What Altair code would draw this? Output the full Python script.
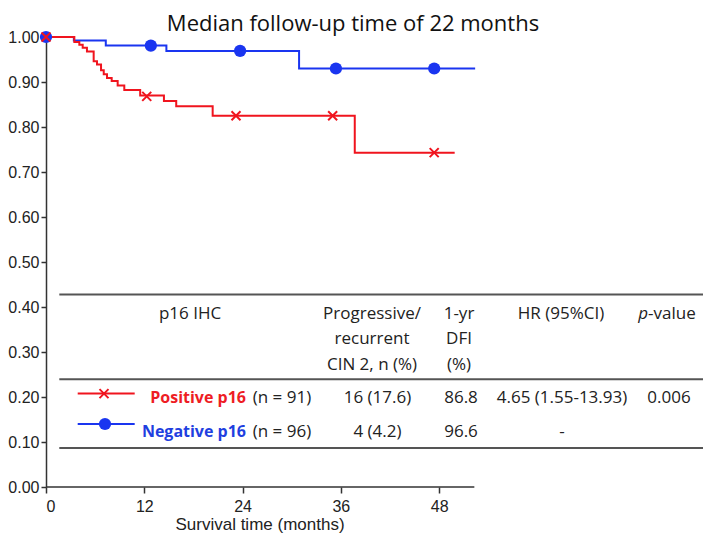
import altair as alt
import pandas as pd

# ---------------- data ----------------
pos_t = [0, 3.46, 4.07, 4.48, 5.0, 5.82, 6.23, 6.72, 7.05, 7.45, 8.02, 8.75, 9.56, 11.5, 14.4, 15.9, 20.35, 37.7, 49.9]
pos_s = [1.0, 0.989, 0.983, 0.976, 0.968, 0.946, 0.939, 0.926, 0.917, 0.909, 0.902, 0.892, 0.882, 0.870, 0.858, 0.846, 0.825, 0.743, 0.743]
neg_t = [0, 3.4, 7.3, 14.7, 30.9, 52.4]
neg_s = [1.0, 0.992, 0.981, 0.969, 0.930, 0.930]
pos_mark_t = [0, 12.3, 23.2, 35.0, 47.4]
pos_mark_s = [1.0, 0.868, 0.825, 0.825, 0.743]
neg_mark_t = [0, 12.8, 23.7, 35.4, 47.4]
neg_mark_s = [1.0, 0.981, 0.969, 0.930, 0.930]
x_ticks = [0, 12, 24, 36, 48]
y_ticks = [0.0, 0.1, 0.2, 0.3, 0.4, 0.5, 0.6, 0.7, 0.8, 0.9, 1.0]
axis_end = 52.3

title_text = "Median follow-up time of 22 months"
x_title = "Survival time (months)"
header_p16 = ["p16 IHC"]
header_prog = ["Progressive/", "recurrent", "CIN 2, n (%)"]
header_dfi = ["1-yr", "DFI", "(%)"]
header_hr = ["HR (95%CI)"]
group_labels = ["Positive p16", "Negative p16"]
group_n = ["(n = 91)", "(n = 96)"]
col_prog = ["16 (17.6)", "4 (4.2)"]
col_dfi = ["86.8", "96.6"]
col_hr = ["4.65 (1.55-13.93)", "-"]
col_p = ["0.006", ""]

# ---------------- style / layout ----------------
RED = "#f0141e"
BLUE = "#1a35f0"
RED_TXT = "#ee1c24"
BLUE_TXT = "#1f3fe0"
INK = "#222222"
AX = "#333333"
TFONT = "Open Sans"
AFONT = "Liberation Sans"
W, H = 657, 450
XMAX = W / 8.19

xs = alt.Scale(domain=[0, XMAX], nice=False, zero=False)
ys = alt.Scale(domain=[0, 1], nice=False)
x_axis = alt.Axis(values=x_ticks, title=None, domain=False, grid=False, tickSize=6,
                  labelPadding=5, labelFontSize=16, labelFont=AFONT, labelColor=INK,
                  tickColor=AX, tickWidth=1.5)
y_axis = alt.Axis(values=y_ticks, format=".2f", title=None, grid=False, tickSize=5,
                  labelPadding=2, labelFontSize=16, labelFont=AFONT, labelColor=INK,
                  tickColor=AX, tickWidth=1.5, domainColor=AX, domainWidth=1.5)

pos_df = pd.DataFrame({"t": pos_t, "s": pos_s})
neg_df = pd.DataFrame({"t": neg_t, "s": neg_s})
posm_df = pd.DataFrame({"t": pos_mark_t, "s": pos_mark_s})
negm_df = pd.DataFrame({"t": neg_mark_t, "s": neg_mark_s})
axis_df = pd.DataFrame({"t": [0], "t2": [axis_end], "s": [0]})
one = pd.DataFrame({"k": [0]})

XSHAPE = "M-1,-1L1,1M-1,1L1,-1"

neg_line = alt.Chart(neg_df).mark_line(interpolate="step-after", color=BLUE, strokeWidth=2).encode(
    x=alt.X("t:Q", scale=xs, axis=x_axis), y=alt.Y("s:Q", scale=ys, axis=y_axis))
pos_line = alt.Chart(pos_df).mark_line(interpolate="step-after", color=RED, strokeWidth=2).encode(
    x=alt.X("t:Q", scale=xs), y=alt.Y("s:Q", scale=ys))
neg_pts = alt.Chart(negm_df).mark_point(shape="circle", filled=True, size=150, color=BLUE, opacity=1).encode(
    x=alt.X("t:Q", scale=xs), y=alt.Y("s:Q", scale=ys))
pos_pts = alt.Chart(posm_df).mark_point(shape=XSHAPE, filled=False, size=81, color=RED, strokeWidth=2, opacity=1).encode(
    x=alt.X("t:Q", scale=xs), y=alt.Y("s:Q", scale=ys))
x_line = alt.Chart(axis_df).mark_rule(color=AX, strokeWidth=1.5).encode(
    x=alt.X("t:Q", scale=xs), x2="t2:Q", y=alt.Y("s:Q", scale=ys))


def txt(s, x, y, align="center", color=INK, size=17, weight="normal", style="normal", font=TFONT):
    return alt.Chart(one).mark_text(text=s, align=align, baseline="alphabetic", fontSize=size,
                                    font=font, fontWeight=weight, fontStyle=style, color=color).encode(
        x=alt.value(x), y=alt.value(y))


def hline(y, x1=13.3, x2=W, color="#555555", width=2):
    return alt.Chart(one).mark_rule(color=color, strokeWidth=width).encode(
        x=alt.value(x1), x2=alt.value(x2), y=alt.value(y))


layers = [neg_line, pos_line, neg_pts, pos_pts, x_line]

# title and axis title
layers.append(txt(title_text, 307, -6, size=22, color="#111111"))
layers.append(txt(x_title, 214, 493, size=17, font=AFONT))

# table rules
for yy in [257.6, 342.3, 411.0]:
    layers.append(hline(yy))

# headers
hdr_y = [281.6, 306.8, 332.6]
layers.append(txt(header_p16[0], 144, hdr_y[0]))
for i, s in enumerate(header_prog):
    layers.append(txt(s, 326, hdr_y[i]))
for i, s in enumerate(header_dfi):
    layers.append(txt(s, 413, hdr_y[i]))
layers.append(txt(header_hr[0], 515, hdr_y[0]))
layers.append(txt("p", 602, hdr_y[0], align="right", style="italic"))
layers.append(txt("-value", 602, hdr_y[0], align="left"))

# rows
row_y = [366.0, 400.0]
leg_y = [356.6, 387.0]
lab_col = [RED_TXT, BLUE_TXT]
line_col = [RED, BLUE]
for i in range(2):
    layers.append(hline(leg_y[i], 31.7, 88.7, color=line_col[i], width=2))
    layers.append(txt(group_labels[i], 200, row_y[i], align="right", color=lab_col[i], weight="bold", size=16))
    layers.append(txt(group_n[i], 206.7, row_y[i], align="left"))
    layers.append(txt(col_prog[i], 331.5, row_y[i]))
    layers.append(txt(col_dfi[i], 415, row_y[i]))
    layers.append(txt(col_hr[i], 516, row_y[i]))
    if col_p[i]:
        layers.append(txt(col_p[i], 623, row_y[i]))

layers.append(alt.Chart(one).mark_point(shape="circle", filled=True, size=150, color=BLUE, opacity=1).encode(
    x=alt.value(59), y=alt.value(leg_y[1])))
layers.append(alt.Chart(one).mark_point(shape=XSHAPE, filled=False, size=81, color=RED, strokeWidth=2, opacity=1).encode(
    x=alt.value(58), y=alt.value(leg_y[0])))

chart = alt.layer(*layers).properties(
    width=W, height=H,
    autosize=alt.AutoSizeParams(type="none"),
    padding={"left": 38, "top": 29, "right": 0, "bottom": 47},
).configure_view(stroke=None)

chart.save("out.html", embed_options={"renderer": "svg", "actions": False})
